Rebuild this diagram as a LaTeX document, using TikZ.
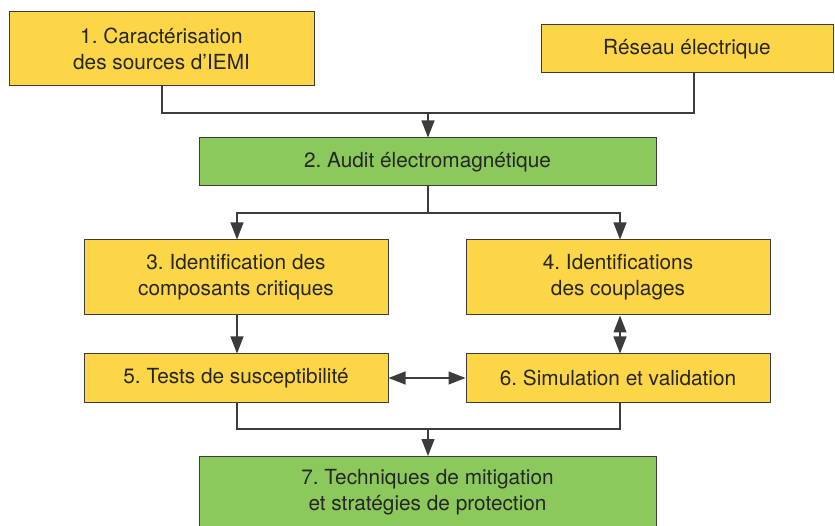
\documentclass[tikz,border=0pt]{standalone}
\usepackage{fontspec}
\setmainfont{TeX Gyre Heros}
\usetikzlibrary{arrows.meta}
\definecolor{boxyellow}{RGB}{252,214,70}
\definecolor{boxgreen}{RGB}{140,201,92}
\definecolor{edgegray}{RGB}{60,60,60}
\frenchspacing
\begin{document}
\begin{tikzpicture}[x=1pt,y=-1pt,
  >={Triangle[length=17pt,width=13pt]},
  box/.style={draw=edgegray,line width=1pt,inner sep=0pt,align=center,font=\fontsize{20.8}{26}\selectfont,text=black!85},
  ybox/.style={box,fill=boxyellow},
  gbox/.style={box,fill=boxgreen},
  conn/.style={draw=edgegray,line width=1.1pt},
  arr/.style={conn,->},
  darr/.style={conn,<->}]
\useasboundingbox (0,0) rectangle (835,526);
\begin{scope}
\clip (0,0) rectangle (835,526);
\node[ybox,minimum width=305pt,minimum height=74pt] (b1) at (161.5,49) {1. Caractérisation\\des sources d’IEMI};
\node[ybox,minimum width=292pt,minimum height=48pt] (r) at (687,49) {Réseau électrique};
\node[gbox,minimum width=457pt,minimum height=48pt] (b2) at (427.5,162) {2. Audit électromagnétique};
\node[ybox,minimum width=304pt,minimum height=75pt] (b3) at (236,277.5) {3. Identification des\\composants critiques};
\node[ybox,minimum width=304pt,minimum height=75pt] (b4) at (618,277.5) {4. Identifications\\des couplages};
\node[ybox,minimum width=304pt,minimum height=48pt] (b5) at (236,378) {5. Tests de susceptibilité};
\node[ybox,minimum width=304pt,minimum height=48pt] (b6) at (618,378) {6. Simulation et validation};
\node[gbox,minimum width=457pt,minimum height=100pt,anchor=north] (b7) at (427.5,456) {};
\node[box,draw=none,anchor=center] (t7) at (427.5,492) {7. Techniques de mitigation\\et stratégies de protection};
\end{scope}
\coordinate (j1) at (428,113);
\coordinate (j2) at (428,213);
\coordinate (j3) at (428,429);
\draw[conn] (b1.south -| 162,0) |- (j1) -| (r.south -| 694,0);
\draw[arr] (j1) -- (b2.north -| j1);
\draw[conn] (b2.south -| j2) -- (j2);
\draw[arr] (j2) -| (b3.north -| 237,0);
\draw[arr] (j2) -| (b4.north -| 620,0);
\draw[arr] (b3.south -| 237,0) -- (b5.north -| 237,0);
\draw[darr] (b4.south -| 620,0) -- (b6.north -| 620,0);
\draw[darr] (b5.east) -- (b6.west);
\draw[conn] (b5.south -| 237,0) |- (j3) -| (b6.south -| 620,0);
\draw[arr] (j3) -- (b7.north -| j3);
\end{tikzpicture}
\end{document}
